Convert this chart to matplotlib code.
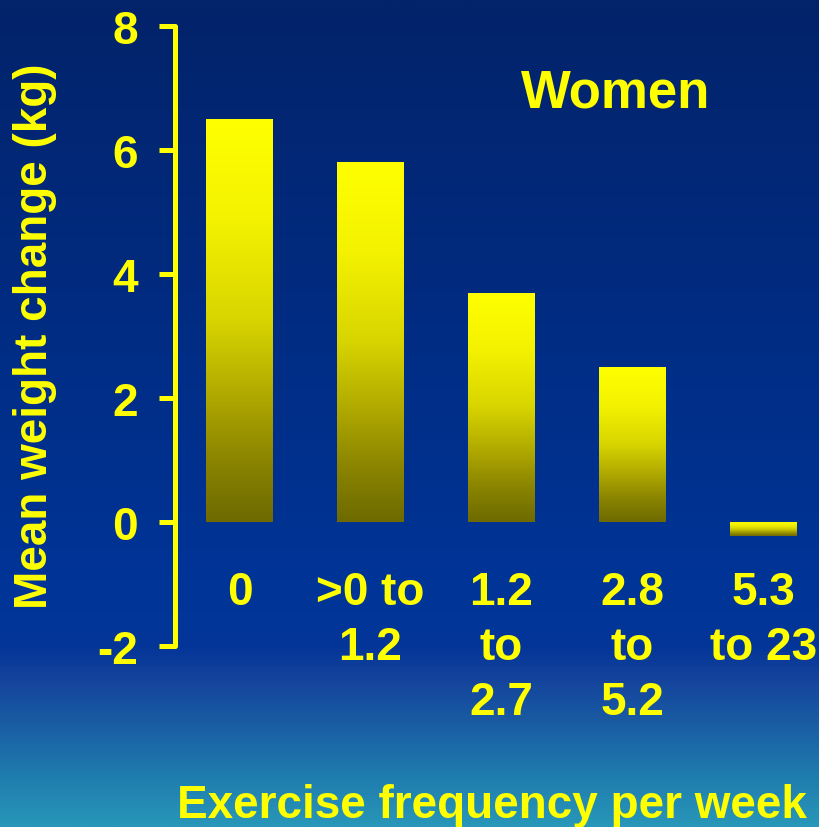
import numpy as np
import matplotlib
matplotlib.use("Agg")
import matplotlib.pyplot as plt
from matplotlib.colors import LinearSegmentedColormap

# Data
categories = ["0", ">0 to\n1.2", "1.2\nto\n2.7", "2.8\nto\n5.2", "5.3\nto 23"]
weight_change = [6.5, 5.8, 3.7, 2.5, -0.23]
y_ticks = [-2, 0, 2, 4, 6, 8]
y_tick_labels = ["-2", "0", "2", "4", "6", "8"]

YELLOW = "#FFFF00"
FONT = "Liberation Sans"

W, H, DPI = 819, 828, 100
fig = plt.figure(figsize=(W / DPI, H / DPI), dpi=DPI)

# Slide-style background gradient (navy at top, teal at bottom)
bg = fig.add_axes([0, 0, 1, 1], zorder=-10)
bg_cmap = LinearSegmentedColormap.from_list(
    "bg",
    [(0.00, "#03236a"), (0.35, "#012b80"), (0.70, "#003497"),
     (0.785, "#043699"), (0.82, "#14429c"), (0.88, "#1a5ea4"),
     (0.94, "#1f7cae"), (1.00, "#2897b8")],
)
grad = np.linspace(0, 1, 512).reshape(-1, 1)
bg.imshow(grad, aspect="auto", cmap=bg_cmap, extent=[0, 1, 0, 1], origin="upper")
bg.set_axis_off()

# Main axes
left, right = 175 / W, 1.0
bottom, top = (H - 647) / H, (H - 27) / H
ax = fig.add_axes([left, bottom, right - left, top - bottom])
ax.set_facecolor("none")

x = np.arange(len(categories))
bars = ax.bar(x, weight_change, width=0.51, color="none", edgecolor="none")

# Vertical yellow-to-olive fill inside every bar
bar_cmap = LinearSegmentedColormap.from_list(
    "bar",
    [(0.0, "#FFFF00"), (0.25, "#F4F200"), (0.5, "#D8D400"),
     (0.7, "#ADA600"), (0.85, "#8A8400"), (1.0, "#6E6A00")],
)
bar_grad = np.linspace(0, 1, 256).reshape(-1, 1)
for rect in bars:
    x0, y0 = rect.get_x(), rect.get_y()
    w, h = rect.get_width(), rect.get_height()
    y_lo, y_hi = min(y0, y0 + h), max(y0, y0 + h)
    im = ax.imshow(bar_grad, aspect="auto", cmap=bar_cmap,
                   extent=[x0, x0 + w, y_lo, y_hi], origin="upper", zorder=2)
    im.set_clip_path(rect)

ax.set_xlim(-64.5 / 131, (W - 239.5) / 131)
ax.set_ylim(-2, 8)

for s in ["top", "right", "bottom"]:
    ax.spines[s].set_visible(False)
ax.spines["left"].set_color(YELLOW)
ax.spines["left"].set_linewidth(3.6)
ax.spines["left"].set_capstyle("round")

ax.set_yticks(y_ticks, y_tick_labels)
ax.tick_params(axis="y", colors=YELLOW, length=11.5, width=3.6, pad=15)
for lab in ax.get_yticklabels():
    lab.set_fontsize(33)
    lab.set_fontweight("bold")
    lab.set_fontfamily(FONT)

ax.set_xticks(x, categories)
ax.tick_params(axis="x", length=0, pad=-55, colors=YELLOW)
for lab in ax.get_xticklabels():
    lab.set_fontsize(33)
    lab.set_fontweight("bold")
    lab.set_fontfamily(FONT)
    lab.set_linespacing(1.33)
    lab.set_verticalalignment("top")

fig.text(35 / W, 1 - 336 / H, "Mean weight change (kg)", rotation=90,
         ha="center", va="center", color=YELLOW, fontsize=33,
         fontweight="bold", family=FONT)
fig.text(491.5 / W, 1 - 818 / H, "Exercise frequency per week",
         ha="center", va="baseline", color=YELLOW, fontsize=33,
         fontweight="bold", family=FONT)
ax.text(616 / W, 1 - 107 / H, "Women", transform=fig.transFigure,
        ha="center", va="baseline", color=YELLOW, fontsize=38,
        fontweight="bold", family=FONT)

fig.savefig("out.png", dpi=DPI)
